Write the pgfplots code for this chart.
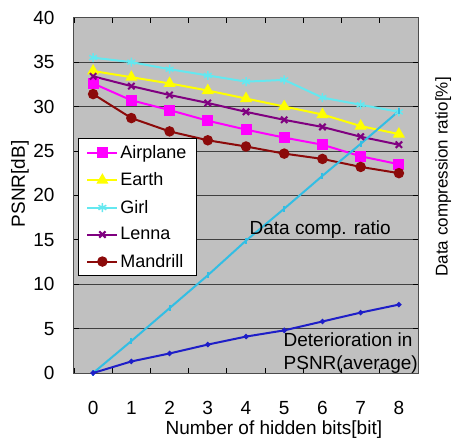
\documentclass[border=0pt]{standalone}
\usepackage{fontspec}
\setmainfont{Liberation Sans}
\usepackage{pgfplots}
\pgfplotsset{compat=1.18}

\definecolor{plotgray}{RGB}{192,192,192}
\definecolor{cAirplane}{RGB}{255,0,255}
\definecolor{cEarth}{RGB}{255,255,0}
\definecolor{cGirl}{RGB}{100,232,240}
\definecolor{cLenna}{RGB}{128,0,128}
\definecolor{cMandrill}{RGB}{140,10,10}
\definecolor{cComp}{RGB}{50,190,228}
\definecolor{cDet}{RGB}{30,30,200}

\begin{document}
\begin{tikzpicture}
\path[use as bounding box] (-74pt,-69pt) rectangle (383pt,373pt);
\begin{axis}[
    at={(0pt,0pt)}, anchor=south west,
    width=344pt, height=355.3pt, scale only axis,
    xmin=-0.5, xmax=8.5, ymin=0, ymax=40,
    xtick={-0.5,0.5,...,8.5},
    x tick label as interval,
    xticklabels={0,1,2,3,4,5,6,7,8},
    ytick={0,5,...,40},
    ymajorgrids,
    grid style={black!75, line width=0.8pt},
    tick align=inside,
    major tick length=5pt,
    tick style={black, line width=0.8pt},
    axis background/.style={fill=plotgray},
    axis line style={black!70, line width=1pt},
    clip=false,
    /pgf/number format/assume math mode=true,
    ticklabel style={font=\fontsize{19}{22}\selectfont},
    yticklabel style={xshift=-16pt},
    xticklabel style={yshift=-25pt},
    xlabel={Number of hidden bits[bit]},
    ylabel={PSNR[dB]},
    every axis x label/.style={at={(axis description cs:0.581,-0.160)}, anchor=center, font=\fontsize{19}{22}\selectfont},
    every axis y label/.style={at={(axis description cs:-0.157,0.532)}, rotate=90, anchor=center, font=\fontsize{19}{22}\selectfont},
    legend cell align=left,
    legend style={at={(rel axis cs:0.0116,0.661)}, anchor=north west,
        draw=black, fill=white, line width=0.8pt,
        font=\fontsize{18}{21}\selectfont, row sep=8.8pt, inner xsep=8pt, inner ysep=5pt},
    legend image code/.code={\draw[mark repeat=2, mark phase=2, line width=2pt]
        plot coordinates {(0pt,0pt) (15pt,0pt) (30pt,0pt)};},
]

% PSNR of each image
\addplot[color=cAirplane, line width=2pt, mark=square*, mark size=4.5pt, mark options={solid}] coordinates {
    (0,32.6) (1,30.7) (2,29.6) (3,28.4) (4,27.4) (5,26.5) (6,25.7) (7,24.4) (8,23.5)
};
\addplot[color=cEarth, line width=2pt, mark=triangle*, mark size=5pt, mark options={solid}] coordinates {
    (0,34.0) (1,33.3) (2,32.6) (3,31.8) (4,30.9) (5,30.0) (6,29.1) (7,27.8) (8,26.9)
};
\addplot[color=cGirl, line width=2pt, mark=asterisk, mark size=4.5pt, mark options={solid, line width=1.5pt}] coordinates {
    (0,35.5) (1,35.0) (2,34.2) (3,33.5) (4,32.8) (5,33.0) (6,31.0) (7,30.2) (8,29.4)
};
\addplot[color=cLenna, line width=2pt, mark=x, mark size=4.5pt, mark options={solid, line width=2pt}] coordinates {
    (0,33.4) (1,32.3) (2,31.3) (3,30.4) (4,29.4) (5,28.5) (6,27.7) (7,26.6) (8,25.7)
};
\addplot[color=cMandrill, line width=2pt, mark=*, mark size=4.2pt, mark options={solid}] coordinates {
    (0,31.4) (1,28.7) (2,27.2) (3,26.2) (4,25.5) (5,24.7) (6,24.1) (7,23.2) (8,22.5)
};

% Data compression ratio
\addplot[color=cComp, line width=2pt, mark=|, mark size=3pt, mark options={solid}] coordinates {
    (0,0) (1,3.6) (2,7.3) (3,11.0) (4,14.9) (5,18.5) (6,22.2) (7,25.8) (8,29.5)
};
% Deterioration in PSNR (average)
\addplot[color=cDet, line width=2pt, mark=*, mark size=1.5pt, mark options={solid}] coordinates {
    (0,0) (1,1.3) (2,2.2) (3,3.2) (4,4.1) (5,4.8) (6,5.8) (7,6.8) (8,7.7)
};

\legend{Airplane\hspace{8pt}, Earth, Girl, Lenna, Mandrill}

\node[anchor=west, inner sep=0pt, font=\fontsize{19}{22}\selectfont] at (axis cs:4.09,16.1) {Data comp. ratio};
\node[anchor=west, inner sep=0pt, font=\fontsize{19}{22}\selectfont] at (axis cs:4.98,3.7) {Deterioration in};
\node[anchor=west, inner sep=0pt, font=\fontsize{19}{22}\selectfont] at (axis cs:4.98,0.9) {PSNR(average)};
\node[rotate=90, font=\fontsize{17}{20}\selectfont] at (axis description cs:1.073,0.552) {Data compression ratio[\%]};
\end{axis}
\end{tikzpicture}
\end{document}
